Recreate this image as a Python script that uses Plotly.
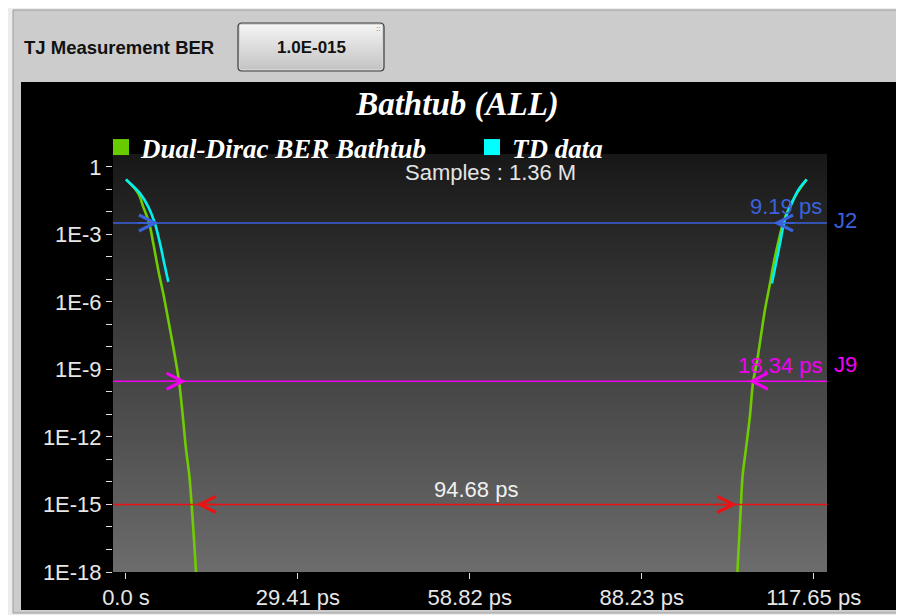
import math
import plotly.graph_objects as go

# ---------------- data ----------------
x_tick_vals = [0, 29.41, 58.82, 88.23, 117.65]
x_tick_text = ["0.0 s", "29.41 ps", "58.82 ps", "88.23 ps", "117.65 ps"]
y_exponents = list(range(0, -19, -1))
y_tick_text = ["1" if e == 0 else (f"1E{e}" if e % 3 == 0 else "") for e in y_exponents]

# Dual-Dirac BER bathtub, left and right edges (time in ps, log10 BER)
dd_left_ps = [0.0, 2.10, 2.96, 3.99, 4.67, 5.53, 6.38, 7.24, 8.09, 9.07, 9.70, 10.26, 10.83, 11.24, 11.63, 11.98]
dd_left_log = [-0.56, -1.18, -1.78, -2.52, -3.40, -4.59, -5.63, -6.81, -8.00, -9.52, -11.03, -12.52, -13.70, -15.04, -16.52, -18.0]
dd_right_ps = [116.45, 114.8, 113.5, 112.4, 111.55, 110.8, 110.18, 109.3, 108.6, 107.9, 107.3, 106.76, 106.07, 105.5, 105.2, 104.9, 104.6]
dd_right_log = [-0.56, -1.17, -1.79, -2.52, -3.40, -4.29, -5.18, -6.37, -7.56, -8.74, -9.52, -11.03, -12.52, -13.70, -15.04, -16.52, -18.0]

# TD (measured) data, left and right edges
td_left_ps = [0.0, 2.40, 3.82, 4.96, 5.82, 6.55, 7.24]
td_left_log = [-0.56, -1.18, -1.78, -2.52, -3.40, -4.29, -5.11]
td_right_ps = [116.45, 115.0, 113.9, 112.7, 111.9, 111.2, 110.5]
td_right_log = [-0.56, -1.04, -1.63, -2.37, -3.40, -4.29, -5.18]

# measurement levels (BER) and jitter edge markers (ps)
level_names = ["J2", "J9", "TJ"]
level_ber = [3.2e-3, 3.0e-10, 1.0e-15]
edge_left_ps = [5.56, 10.27, 12.06]
edge_right_ps = [110.78, 106.47, 104.48]
level_values_text = ["9.19 ps", "18.34 ps", "94.68 ps"]

samples_text = "Samples : 1.36 M"
ber_setting = "1.0E-015"

# ---------------- geometry helpers ----------------
# the page body adds an 8px margin, so the figure is 8px smaller and
# reference pixel coordinates are shifted by OFF
OFF = 8
W, H = 904 - OFF, 615 - OFF
ML, MR, MT, MB = 113 - OFF, 77, 154 - OFF, 43
PW, PH = W - ML - MR, H - MT - MB


def xp(px):
    return (px - OFF - ML) / PW


def yp(py):
    return (H - MB - (py - OFF)) / PH


def lerp(c0, c1, t):
    return "rgb(%d,%d,%d)" % tuple(round(a + (b - a) * t) for a, b in zip(c0, c1))


GREEN = "#70cc00"
CYAN = "#00f0f0"
BLUE = "#3a62dc"
MAGENTA = "#f000f0"
RED = "#ee1111"
level_colors = [BLUE, MAGENTA, RED]

X_RANGE = [-2.22, 119.93]
Y_RANGE = [-18, 0.57]

fig = go.Figure()

# curves
for xs, ls in [(dd_left_ps, dd_left_log), (dd_right_ps, dd_right_log)]:
    fig.add_trace(go.Scatter(x=xs, y=[10 ** v for v in ls], mode="lines",
                             line=dict(color=GREEN, width=2.6, shape="spline"),
                             showlegend=False, hoverinfo="skip"))
for xs, ls in [(td_left_ps, td_left_log), (td_right_ps, td_right_log)]:
    fig.add_trace(go.Scatter(x=xs, y=[10 ** v for v in ls], mode="lines",
                             line=dict(color=CYAN, width=2.6, shape="spline"),
                             showlegend=False, hoverinfo="skip"))

# horizontal level lines
for ber, col in zip(level_ber, level_colors):
    fig.add_trace(go.Scatter(x=X_RANGE, y=[ber, ber], mode="lines",
                             line=dict(color=col, width=1.6),
                             showlegend=False, hoverinfo="skip"))

# legend entries
fig.add_trace(go.Scatter(x=[None], y=[None], mode="markers", name="Dual-Dirac BER Bathtub",
                         marker=dict(symbol="square", size=16, color="#66cc00")))
fig.add_trace(go.Scatter(x=[None], y=[None], mode="markers", name="TD data",
                         marker=dict(symbol="square", size=16, color="#00ffff")))

shapes = []
# outer frame
shapes.append(dict(type="rect", xref="paper", yref="paper", layer="below",
                   x0=xp(13), x1=xp(902), y0=yp(10), y1=yp(613),
                   fillcolor="#cccccc", line=dict(color="#9a9a9a", width=1)))
# black chart panel
shapes.append(dict(type="rect", xref="paper", yref="paper", layer="below",
                   x0=xp(21), x1=xp(897), y0=yp(82), y1=yp(610),
                   fillcolor="#000000", line=dict(width=0)))
# gradient plot background
N = 90
for i in range(N):
    t = (i + 0.5) / N
    shapes.append(dict(type="rect", xref="paper", yref="paper", layer="below",
                       x0=0, x1=1, y0=0, y1=1 - i / N,
                       fillcolor=lerp((24, 24, 24), (108, 108, 108), t), line=dict(width=0)))

# button
bx0, bx1, by0, by1, r = 238, 384, 23, 71, 4


def rounded(x0, x1, y0, y1, r):
    return (f"M {xp(x0 + r)} {yp(y0)} L {xp(x1 - r)} {yp(y0)} Q {xp(x1)} {yp(y0)} {xp(x1)} {yp(y0 + r)} "
            f"L {xp(x1)} {yp(y1 - r)} Q {xp(x1)} {yp(y1)} {xp(x1 - r)} {yp(y1)} "
            f"L {xp(x0 + r)} {yp(y1)} Q {xp(x0)} {yp(y1)} {xp(x0)} {yp(y1 - r)} "
            f"L {xp(x0)} {yp(y0 + r)} Q {xp(x0)} {yp(y0)} {xp(x0 + r)} {yp(y0)} Z")


shapes.append(dict(type="path", xref="paper", yref="paper", layer="below",
                   path=rounded(bx0, bx1, by0, by1, r), fillcolor="#d4d4d4",
                   line=dict(color="#3a3a3a", width=1.2)))
NB = 24
for i in range(NB):
    t = (i + 0.5) / NB
    ytop = by0 + 2 + i * (by1 - by0 - 4) / NB
    shapes.append(dict(type="rect", xref="paper", yref="paper", layer="below",
                       x0=xp(bx0 + 2), x1=xp(bx1 - 2), y0=yp(by1 - 2), y1=yp(ytop),
                       fillcolor=lerp((244, 244, 244), (196, 196, 196), t), line=dict(width=0)))

annotations = []
# top UI texts
annotations.append(dict(text="TJ Measurement BER", xref="paper", yref="paper",
                        x=xp(22), y=yp(47), xanchor="left", yanchor="middle", showarrow=False,
                        font=dict(family="Liberation Sans", size=18.5, color="#111111", weight="bold")))
annotations.append(dict(text=ber_setting, xref="paper", yref="paper",
                        x=xp(311), y=yp(47), xanchor="center", yanchor="middle", showarrow=False,
                        font=dict(family="Liberation Sans", size=17, color="#111111", weight="bold")))
annotations.append(dict(text="::", xref="paper", yref="paper",
                        x=xp(378), y=yp(28), xanchor="center", yanchor="middle", showarrow=False,
                        font=dict(family="Liberation Sans", size=8, color="#666666")))

# samples text
annotations.append(dict(text=samples_text, xref="paper", yref="paper",
                        x=xp(490.5), y=yp(173), xanchor="center", yanchor="middle", showarrow=False,
                        font=dict(family="Liberation Sans", size=22, color="#e4e4e4")))

# arrows marking jitter edges
for k, (ber, col) in enumerate(zip(level_ber, level_colors)):
    ly = math.log10(ber)
    outward = level_names[k] == "TJ"
    annotations.append(dict(x=edge_left_ps[k], y=ly, xref="x", yref="y", text="",
                            showarrow=True, ax=(22 if outward else -22), ay=0,
                            arrowhead=5, arrowsize=2.1, arrowwidth=1.5, arrowcolor=col, standoff=0))
    annotations.append(dict(x=edge_right_ps[k], y=ly, xref="x", yref="y", text="",
                            showarrow=True, ax=(-22 if outward else 22), ay=0,
                            arrowhead=5, arrowsize=2.1, arrowwidth=1.5, arrowcolor=col, standoff=0))

# value labels
for k in range(2):
    ly = math.log10(level_ber[k])
    annotations.append(dict(text=level_values_text[k], x=1, y=ly, xref="paper", yref="y",
                            xanchor="right", yanchor="middle", xshift=-3, yshift=16, showarrow=False,
                            font=dict(family="Liberation Sans", size=22, color=level_colors[k])))
annotations.append(dict(text="J2", x=1, y=math.log10(level_ber[0]), xref="paper", yref="y",
                        xanchor="left", yanchor="middle", xshift=5, yshift=2, showarrow=False,
                        font=dict(family="Liberation Sans", size=22, color=BLUE)))
annotations.append(dict(text="J9", x=1, y=math.log10(level_ber[1]), xref="paper", yref="y",
                        xanchor="left", yanchor="middle", xshift=5, yshift=17, showarrow=False,
                        font=dict(family="Liberation Sans", size=22, color=MAGENTA)))
annotations.append(dict(text=level_values_text[2], x=xp(475.5), y=math.log10(level_ber[2]),
                        xref="paper", yref="y", xanchor="center", yanchor="middle", yshift=15,
                        showarrow=False,
                        font=dict(family="Liberation Sans", size=22, color="#f0f0f0")))

fig.update_layout(
    width=W, height=H,
    margin=dict(l=ML, r=MR, t=MT, b=MB, autoexpand=False),
    paper_bgcolor="#ececec",
    plot_bgcolor="rgba(0,0,0,0)",
    title=dict(text="Bathtub (ALL)", x=(457.5 - OFF) / W, y=1 - (103 - OFF) / H,
               xanchor="center", yanchor="middle", xref="container", yref="container",
               font=dict(family="Liberation Serif", size=33, color="#ffffff", weight="bold", style="italic")),
    showlegend=True,
    legend=dict(orientation="h", x=xp(101), y=yp(123), xanchor="left", yanchor="top",
                bgcolor="rgba(0,0,0,0)", borderwidth=0,
                entrywidth=326, entrywidthmode="pixels",
                font=dict(family="Liberation Serif", size=27, color="#ffffff", weight="bold", style="italic")),
    shapes=shapes,
    annotations=annotations,
    xaxis=dict(range=X_RANGE, tickvals=x_tick_vals, ticktext=x_tick_text,
               showgrid=False, zeroline=False, showline=False,
               ticks="outside", ticklen=6, tickcolor="#e0e0e0", tickwidth=1,
               tickfont=dict(family="Liberation Sans", size=22, color="#e6e6e6")),
    yaxis=dict(type="log", range=Y_RANGE, tickvals=[10 ** e for e in y_exponents], ticktext=y_tick_text,
               showgrid=False, zeroline=False, showline=False,
               ticks="outside", ticklen=6, tickcolor="#e0e0e0", tickwidth=1,
               tickfont=dict(family="Liberation Sans", size=22, color="#e6e6e6")),
)

fig.write_html("out.html")
